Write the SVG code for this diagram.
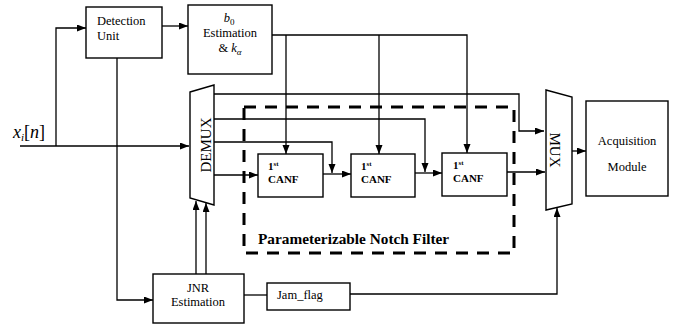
<svg xmlns="http://www.w3.org/2000/svg" width="688" height="332" viewBox="0 0 688 332">
<style>
  .box{fill:#fff;stroke:#000;stroke-width:1.4}
  .ln{fill:none;stroke:#000;stroke-width:1.3}
  .arr{marker-end:url(#ah)}
  .t{font-family:"Liberation Serif","Times New Roman",serif;font-size:12.5px;fill:#000}
  .b{font-family:"Liberation Serif","Times New Roman",serif;font-weight:bold;fill:#000}
  .m{font-family:"Liberation Serif","Times New Roman",serif;fill:#000}
</style>
<defs>
  <marker id="ah" markerUnits="userSpaceOnUse" markerWidth="10" markerHeight="8" refX="9" refY="3.5" orient="auto">
    <path d="M0,0 L9,3.5 L0,7 z" fill="#000"/>
  </marker>
</defs>
<rect width="688" height="332" fill="#fff"/>

<g id="notch-filter">
  <rect x="244" y="107" width="270" height="146" fill="none" stroke="#000" stroke-width="3" stroke-dasharray="12 9"/>
  <text class="b" x="258" y="244" font-size="15.3">Parameterizable Notch Filter</text>
</g>

<g id="connectors">
  <path class="ln arr" d="M20,146 H189"/>
  <path class="ln arr" d="M56,146 V28 H86"/>
  <path class="ln arr" d="M162,26 H188"/>
  <path class="ln arr" d="M117,58 V300 H153"/>
  <path class="ln arr" d="M272,35 H467 V153"/>
  <path class="ln arr" d="M286,35 V154"/>
  <path class="ln arr" d="M379,35 V154"/>
  <path class="ln arr" d="M214,94 H519 V131 H544"/>
  <path class="ln arr" d="M214,119 H425 V172"/>
  <path class="ln arr" d="M214,142 H332 V173"/>
  <path class="ln arr" d="M214,175 H258"/>
  <path class="ln arr" d="M323,174 H351"/>
  <path class="ln arr" d="M415,173 H442"/>
  <path class="ln arr" d="M507,172 H545"/>
  <path class="ln arr" d="M572,151 H586"/>
  <path class="ln arr" d="M196,274 V201"/>
  <path class="ln arr" d="M206,274 V203"/>
  <path class="ln" d="M244,295 H267"/>
  <path class="ln arr" d="M350,294 H557 V208"/>
</g>

<g id="input-label">
  <text class="m" x="13" y="138" font-size="18" font-style="italic">x<tspan font-size="11" dy="3">i</tspan><tspan dy="-3" font-style="normal">[</tspan>n<tspan font-style="normal">]</tspan></text>
</g>

<g id="detection-unit">
  <rect class="box" x="86" y="7" width="76" height="51"/>
  <text class="t" x="97" y="25">Detection</text>
  <text class="t" x="97" y="40">Unit</text>
</g>

<g id="b0-estimation">
  <rect class="box" x="188" y="5" width="84" height="69"/>
  <text class="t" x="229" y="22" text-anchor="middle"><tspan font-style="italic">b</tspan><tspan font-size="9" dy="3">0</tspan></text>
  <text class="t" x="230" y="37" text-anchor="middle">Estimation</text>
  <text class="t" x="230" y="52" text-anchor="middle">&amp; <tspan font-style="italic">k</tspan><tspan font-style="italic" font-size="9" dy="3">α</tspan></text>
</g>

<g id="demux">
  <polygon class="box" points="190,92 214,85 214,205 190,198"/>
  <text class="m" transform="translate(211,145) rotate(-90)" text-anchor="middle" font-size="15">DEMUX</text>
</g>

<g id="canf1">
  <rect class="box" x="258" y="154" width="65" height="43"/>
  <text class="b" x="268" y="170" font-size="11">1<tspan font-size="7" dy="-4">st</tspan></text>
  <text class="b" x="268" y="183" font-size="11">CANF</text>
</g>
<g id="canf2">
  <rect class="box" x="351" y="154" width="64" height="43"/>
  <text class="b" x="361" y="170" font-size="11">1<tspan font-size="7" dy="-4">st</tspan></text>
  <text class="b" x="361" y="183" font-size="11">CANF</text>
</g>
<g id="canf3">
  <rect class="box" x="442" y="153" width="65" height="43"/>
  <text class="b" x="453" y="169" font-size="11">1<tspan font-size="7" dy="-4">st</tspan></text>
  <text class="b" x="453" y="182" font-size="11">CANF</text>
</g>

<g id="mux">
  <polygon class="box" points="546,90 572,97 572,204 546,210"/>
  <text class="m" transform="translate(550,150) rotate(90)" text-anchor="middle" font-size="15">MUX</text>
</g>

<g id="acquisition-module">
  <rect class="box" x="586" y="101" width="82" height="95"/>
  <text class="t" x="627" y="145" text-anchor="middle">Acquisition</text>
  <text class="t" x="627" y="171" text-anchor="middle">Module</text>
</g>

<g id="jnr-estimation">
  <rect class="box" x="153" y="274" width="91" height="49"/>
  <text class="t" x="198" y="292" text-anchor="middle">JNR</text>
  <text class="t" x="198" y="306" text-anchor="middle">Estimation</text>
</g>

<g id="jam-flag">
  <rect class="box" x="267" y="283" width="83" height="27"/>
  <text class="t" x="277" y="299">Jam_flag</text>
</g>
</svg>
